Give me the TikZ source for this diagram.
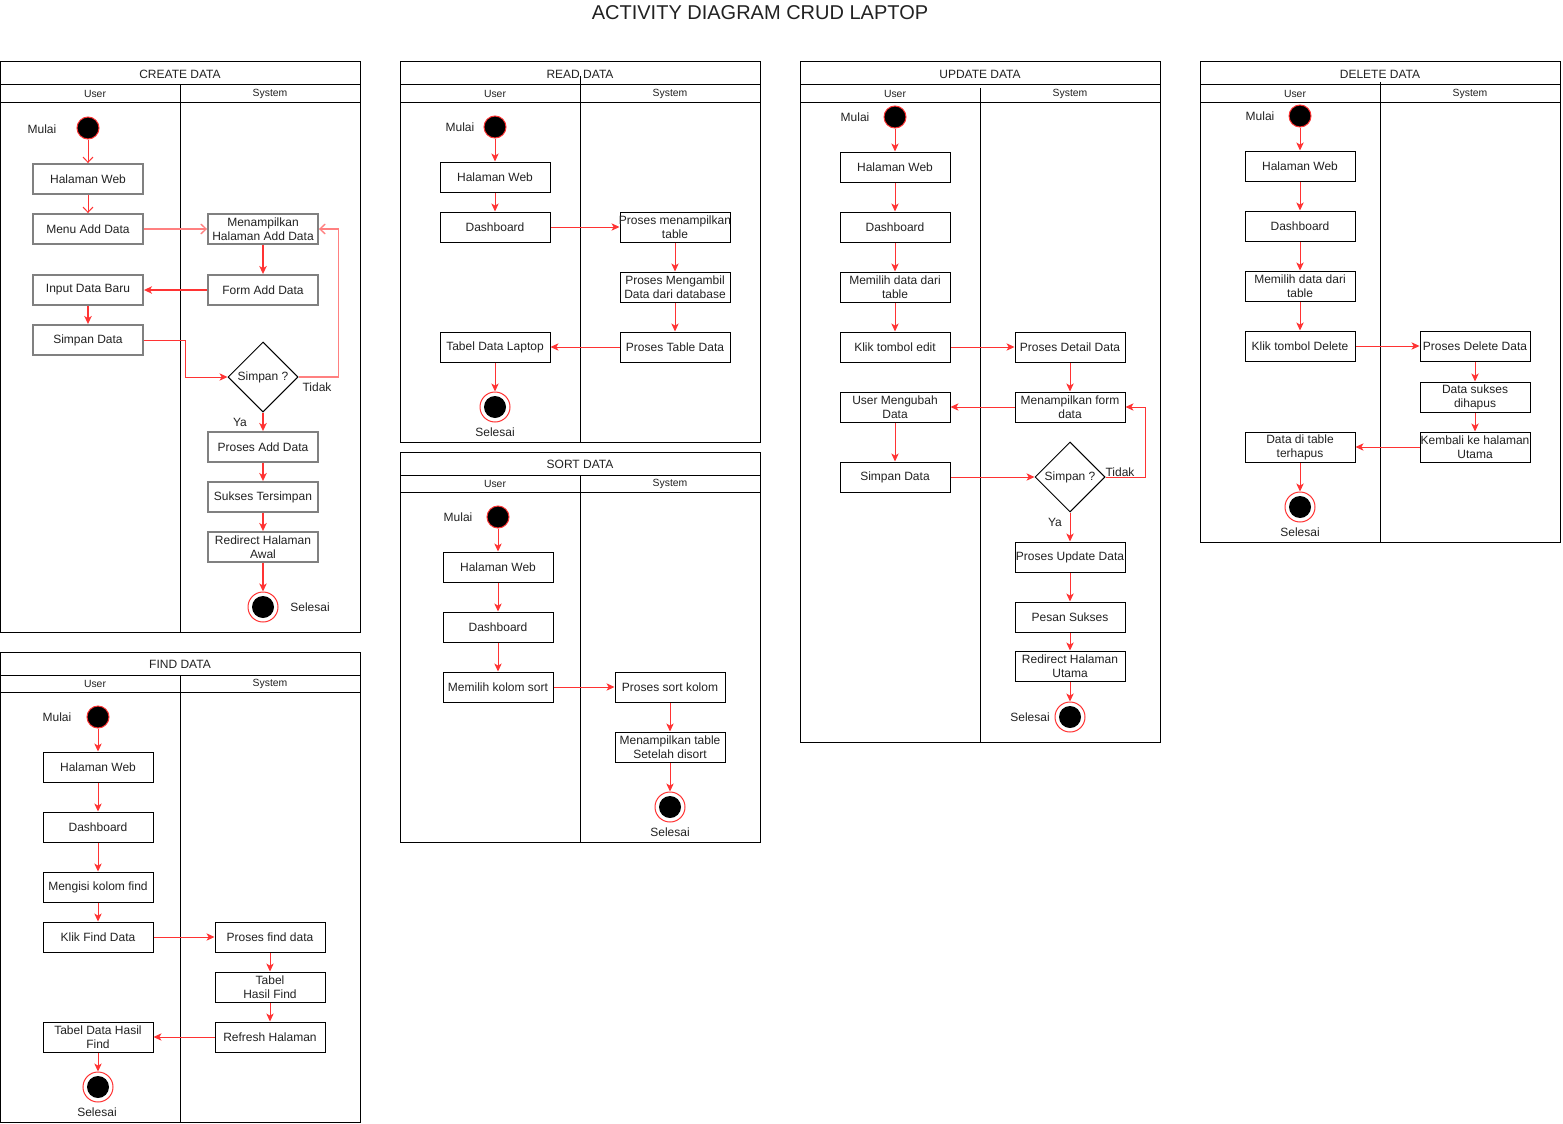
\documentclass[tikz,border=0pt]{standalone}
\usepackage{fontspec}
\setmainfont{Liberation Sans}
\usetikzlibrary{arrows.meta,shapes.geometric}
\definecolor{flowred}{HTML}{FF3333}
\definecolor{flowpink}{HTML}{FF8080}
\definecolor{boxgray}{HTML}{808080}
\definecolor{txt}{HTML}{222222}
% zero-width centred line, so a long label may overhang its box evenly
\newcommand{\cl}[1]{\makebox[0pt]{#1}}
\tikzset{
  lanel/.style={draw=black, line width=0.75pt},
  lanetitle/.style={font=\fontsize{9}{11}\selectfont, text=txt},
  lanehead/.style={font=\fontsize{7.8}{9}\selectfont, text=txt},
  pics/lane/.style n args={3}{code={
    \fill[white] (0,0) rectangle (360,#1);
    \draw[lanel] (0,0) rectangle (360,#1);
    \draw[lanel] (0,23) -- (360,23);
    \draw[lanel] (0,40) -- (360,40);
    \draw[lanel] (180,#3) -- (180,#1);
    \node[lanetitle] (-t) at (180,12) {#2};
    \node[lanehead] (-u) at (95,31.5) {User};
    \node[lanehead] (-s) at (270,31.5) {System};
  }},
  act/.style={draw=black, line width=0.75pt, fill=white, minimum width=82.5pt,
    minimum height=22.5pt, inner sep=0pt, align=center, text=txt,
    font=\fontsize{9}{10.5}\selectfont},
  gact/.style={act, draw=boxgray, line width=1.4pt},
  lbl/.style={text=txt, font=\fontsize{9}{10.5}\selectfont, inner sep=0pt},
  startnode/.style={circle, fill=black, draw=flowred, line width=0.75pt,
    minimum size=16.5pt, inner sep=0pt},
  endnode/.style={circle, fill=white, draw=flowred, line width=0.75pt,
    minimum size=22.5pt, inner sep=0pt,
    path picture={\fill[black] (path picture bounding box.center) circle (8.25pt);}},
  decide/.style={diamond, draw=black, line width=0.75pt, fill=white,
    minimum width=52.5pt, minimum height=52.5pt, inner sep=0pt, text=txt,
    font=\fontsize{9}{10.5}\selectfont},
  flow/.style={draw=flowred, line width=0.75pt,
    -{Stealth[length=6pt,width=5.5pt,inset=1.6pt]}},
  gflow/.style={flow, line width=1.2pt},
  flowopen/.style={draw=flowred, line width=0.75pt,
    -{Straight Barb[length=4pt,width=7.5pt]}},
  pinkopen/.style={flowopen, draw=flowpink, line width=1pt},
}
\begin{document}
\begin{tikzpicture}[x=0.75pt, y=-0.75pt]
\useasboundingbox (0,0) rectangle (1563,1124);
\fill[white] (0,0) rectangle (1563,1124);

\node[text=txt, font=\fontsize{15}{18}\selectfont] (title) at (760,13) {ACTIVITY DIAGRAM CRUD LAPTOP};

% swimlane frames
\pic (cr) at (0,62)    {lane={570}{CREATE DATA}{23}};
\pic (fd) at (0,652)   {lane={470}{FIND DATA}{23}};
\pic (rd) at (400,62)  {lane={380}{READ DATA}{14}};
\pic (so) at (400,452) {lane={390}{SORT DATA}{23}};
\pic (up) at (800,62)  {lane={680}{UPDATE DATA}{26}};
\pic (de) at (1200,62) {lane={480}{DELETE DATA}{20}};

% ---------------- CREATE DATA ----------------
\node[lbl] (cMl) at (42,129) {Mulai};
\node[startnode] (cS) at (88,128) {};
\node[gact] (cHw) at (88,179) {Halaman Web};
\node[gact] (cMenu) at (88,229) {Menu Add Data};
\node[gact] (cIn) at (88,290) {Input Data Baru};
\node[gact] (cSd) at (88,340) {Simpan Data};
\node[gact] (cMh) at (263,229) {Menampilkan\\Halaman Add Data};
\node[gact] (cForm) at (263,290) {Form Add Data};
\node[decide] (cQ) at (263,377) {Simpan ?};
\node[gact] (cPa) at (263,447) {Proses Add Data};
\node[gact] (cSt) at (263,497) {Sukses Tersimpan};
\node[gact] (cRd) at (263,547) {Redirect Halaman\\Awal};
\node[endnode] (cE) at (263,607) {};
\node[lbl] (cSl) at (310,607) {Selesai};
\node[lbl] (cYa) at (240,422) {Ya};
\node[lbl] (cTd) at (317,387) {Tidak};

\draw[flowopen] (cS) -- (cHw);
\draw[flowopen] (cHw) -- (cMenu);
\draw[pinkopen] (cMenu) -- (cMh);
\draw[gflow] (cMh) -- (cForm);
\draw[gflow] (cForm) -- (cIn);
\draw[gflow] (cIn) -- (cSd);
\draw[flow] (cSd.east) -- ++(42,0) |- (cQ.west);
\draw[pinkopen] (cQ.east) -- ++(40,0) |- (cMh.east);
\draw[gflow] (cQ) -- (cPa);
\draw[gflow] (cPa) -- (cSt);
\draw[gflow] (cSt) -- (cRd);
\draw[gflow] (cRd) -- (cE);

% ---------------- READ DATA ----------------
\node[lbl] (rMl) at (460,127) {Mulai};
\node[startnode] (rS) at (495,127) {};
\node[act] (rHw) at (495,177) {Halaman Web};
\node[act] (rDb) at (495,227) {Dashboard};
\node[act] (rPm) at (675,227) {\cl{Proses menampilkan}\\table};
\node[act] (rPa) at (675,287) {Proses Mengambil\\Data dari database};
\node[act] (rPt) at (675,347) {Proses Table Data};
\node[act] (rTl) at (495,347) {Tabel Data Laptop};
\node[endnode] (rE) at (495,407) {};
\node[lbl] (rSl) at (495,432) {Selesai};

\draw[flow] (rS) -- (rHw);
\draw[flow] (rHw) -- (rDb);
\draw[flow] (rDb) -- (rPm);
\draw[flow] (rPm) -- (rPa);
\draw[flow] (rPa) -- (rPt);
\draw[flow] (rPt) -- (rTl);
\draw[flow] (rTl) -- (rE);

% ---------------- SORT DATA ----------------
\node[lbl] (sMl) at (458,517) {Mulai};
\node[startnode] (sS) at (498,517) {};
\node[act] (sHw) at (498,567) {Halaman Web};
\node[act] (sDb) at (498,627) {Dashboard};
\node[act] (sMk) at (498,687) {Memilih kolom sort};
\node[act] (sPs) at (670,687) {Proses sort kolom};
\node[act] (sMt) at (670,747) {Menampilkan table\\Setelah disort};
\node[endnode] (sE) at (670,807) {};
\node[lbl] (sSl) at (670,832) {Selesai};

\draw[flow] (sS) -- (sHw);
\draw[flow] (sHw) -- (sDb);
\draw[flow] (sDb) -- (sMk);
\draw[flow] (sMk) -- (sPs);
\draw[flow] (sPs) -- (sMt);
\draw[flow] (sMt) -- (sE);

% ---------------- UPDATE DATA ----------------
\node[lbl] (uMl) at (855,117) {Mulai};
\node[startnode] (uS) at (895,117) {};
\node[act] (uHw) at (895,167) {Halaman Web};
\node[act] (uDb) at (895,227) {Dashboard};
\node[act] (uMd) at (895,287) {Memilih data dari\\table};
\node[act] (uKe) at (895,347) {Klik tombol edit};
\node[act] (uPd) at (1070,347) {Proses Detail Data};
\node[act] (uMf) at (1070,407) {Menampilkan form\\data};
\node[act] (uUm) at (895,407) {User Mengubah\\Data};
\node[act] (uSd) at (895,477) {Simpan Data};
\node[decide] (uQ) at (1070,477) {Simpan ?};
\node[act] (uPu) at (1070,557) {Proses Update Data};
\node[act] (uPs) at (1070,617) {Pesan Sukses};
\node[act] (uRh) at (1070,666) {Redirect Halaman\\Utama};
\node[endnode] (uE) at (1070,717) {};
\node[lbl] (uSl) at (1030,717) {Selesai};
\node[lbl] (uYa) at (1055,522) {Ya};
\node[lbl] (uTd) at (1120,472) {Tidak};

\draw[flow] (uS) -- (uHw);
\draw[flow] (uHw) -- (uDb);
\draw[flow] (uDb) -- (uMd);
\draw[flow] (uMd) -- (uKe);
\draw[flow] (uKe) -- (uPd);
\draw[flow] (uPd) -- (uMf);
\draw[flow] (uMf) -- (uUm);
\draw[flow] (uUm) -- (uSd);
\draw[flow] (uSd) -- (uQ);
\draw[flow] (uQ.east) -- ++(40,0) |- (uMf.east);
\draw[flow] (uQ) -- (uPu);
\draw[flow] (uPu) -- (uPs);
\draw[flow] (uPs) -- (uRh);
\draw[flow] (uRh) -- (uE);

% ---------------- DELETE DATA ----------------
\node[lbl] (dMl) at (1260,116) {Mulai};
\node[startnode] (dS) at (1300,116) {};
\node[act] (dHw) at (1300,166) {Halaman Web};
\node[act] (dDb) at (1300,226) {Dashboard};
\node[act] (dMd) at (1300,286) {Memilih data dari\\table};
\node[act] (dKd) at (1300,346) {Klik tombol Delete};
\node[act] (dPd) at (1475,346) {Proses Delete Data};
\node[act] (dDs) at (1475,397) {Data sukses\\dihapus};
\node[act] (dKh) at (1475,447) {\cl{Kembali ke halaman}\\Utama};
\node[act] (dDt) at (1300,447) {Data di table\\terhapus};
\node[endnode] (dE) at (1300,507) {};
\node[lbl] (dSl) at (1300,532) {Selesai};

\draw[flow] (dS) -- (dHw);
\draw[flow] (dHw) -- (dDb);
\draw[flow] (dDb) -- (dMd);
\draw[flow] (dMd) -- (dKd);
\draw[flow] (dKd) -- (dPd);
\draw[flow] (dPd) -- (dDs);
\draw[flow] (dDs) -- (dKh);
\draw[flow] (dKh) -- (dDt);
\draw[flow] (dDt) -- (dE);

% ---------------- FIND DATA ----------------
\node[lbl] (fMl) at (57,717) {Mulai};
\node[startnode] (fS) at (98,717) {};
\node[act] (fHw) at (98,767) {Halaman Web};
\node[act] (fDb) at (98,827) {Dashboard};
\node[act] (fMk) at (98,887) {Mengisi kolom find};
\node[act] (fKf) at (98,937) {Klik Find Data};
\node[act] (fPf) at (270,937) {Proses find data};
\node[act] (fTh) at (270,987) {Tabel\\Hasil Find};
\node[act] (fRh) at (270,1037) {Refresh Halaman};
\node[act] (fTd) at (98,1037) {Tabel Data Hasil\\Find};
\node[endnode] (fE) at (98,1087) {};
\node[lbl] (fSl) at (97,1112) {Selesai};

\draw[flow] (fS) -- (fHw);
\draw[flow] (fHw) -- (fDb);
\draw[flow] (fDb) -- (fMk);
\draw[flow] (fMk) -- (fKf);
\draw[flow] (fKf) -- (fPf);
\draw[flow] (fPf) -- (fTh);
\draw[flow] (fTh) -- (fRh);
\draw[flow] (fRh) -- (fTd);
\draw[flow] (fTd) -- (fE);
\end{tikzpicture}
\end{document}
